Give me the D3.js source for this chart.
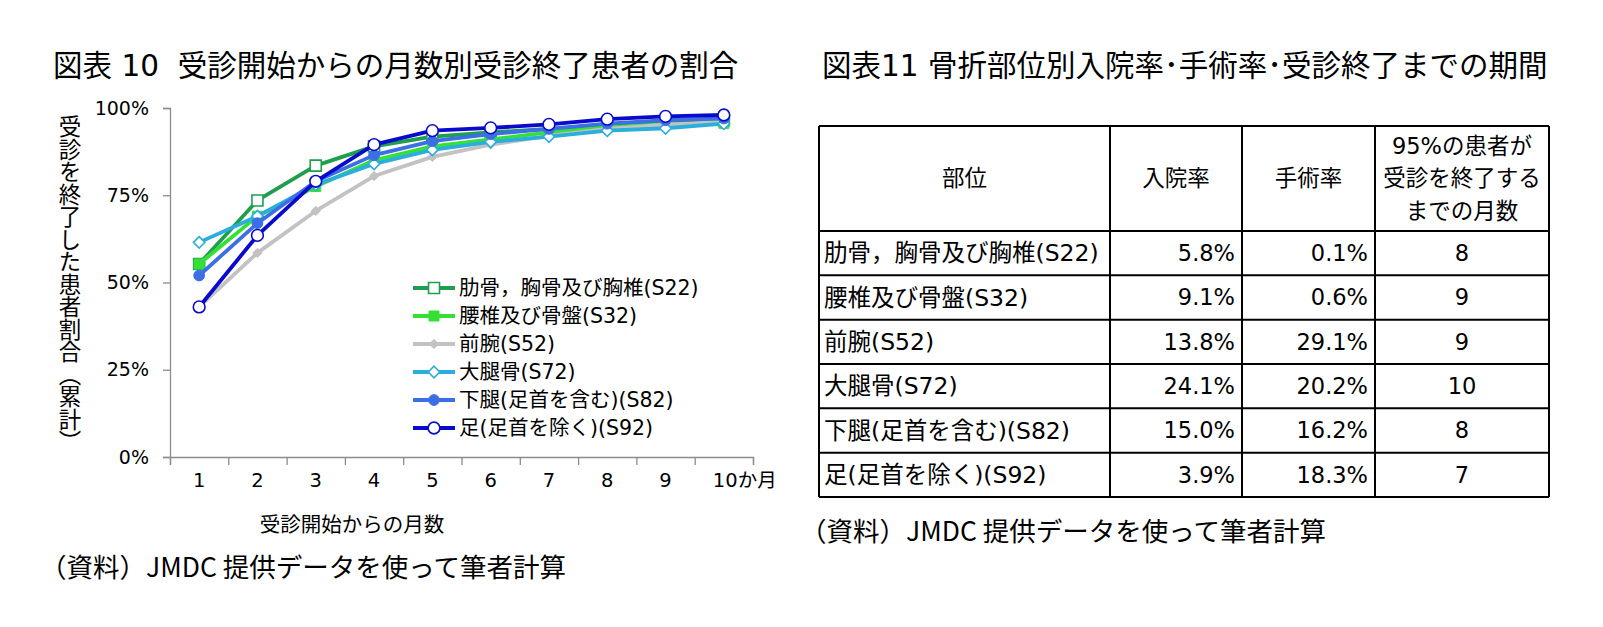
<!DOCTYPE html>
<html lang="ja">
<head>
<meta charset="UTF-8">
<title>受診開始からの月数別受診終了患者の割合</title>
<script src="https://d3js.org/d3.v7.min.js"></script>
<style>
  body { margin: 0; background: #fff; }
  svg { display: block; }
  text { font-family: 'DejaVu Sans', 'Noto Sans CJK JP', sans-serif; fill: #000; }
  .cjk { font-family: 'Noto Sans CJK JP', sans-serif; }
</style>
</head>
<body>
<svg width="1603" height="627"></svg>
<script>
// chart data
const months = [1, 2, 3, 4, 5, 6, 7, 8, 9, 10];
const monthLabels = ["1", "2", "3", "4", "5", "6", "7", "8", "9", "10か月"];
const seriesNames = ["肋骨，胸骨及び胸椎(S22)", "腰椎及び骨盤(S32)", "前腕(S52)", "大腿骨(S72)", "下腿(足首を含む)(S82)", "足(足首を除く)(S92)"];
const s22 = [0.553, 0.735, 0.835, 0.890, 0.918, 0.930, 0.940, 0.952, 0.960, 0.965];
const s32 = [0.553, 0.690, 0.775, 0.850, 0.890, 0.910, 0.930, 0.945, 0.953, 0.956];
const s52 = [0.430, 0.585, 0.705, 0.805, 0.860, 0.895, 0.920, 0.940, 0.952, 0.960];
const s72 = [0.615, 0.690, 0.780, 0.840, 0.880, 0.903, 0.918, 0.935, 0.942, 0.955];
const s82 = [0.520, 0.670, 0.790, 0.865, 0.905, 0.925, 0.940, 0.955, 0.965, 0.970];
const s92 = [0.430, 0.635, 0.790, 0.895, 0.935, 0.943, 0.953, 0.968, 0.976, 0.980];
const yTicks = [0, 0.25, 0.5, 0.75, 1];

// table data
const tableHeader = ["部位", "入院率", "手術率", ["95%の患者が", "受診を終了する", "までの月数"]];
const parts = ["肋骨，胸骨及び胸椎(S22)", "腰椎及び骨盤(S32)", "前腕(S52)", "大腿骨(S72)", "下腿(足首を含む)(S82)", "足(足首を除く)(S92)"];
const admissionRate = ["5.8%", "9.1%", "13.8%", "24.1%", "15.0%", "3.9%"];
const surgeryRate = ["0.1%", "0.6%", "29.1%", "20.2%", "16.2%", "18.3%"];
const monthsTo95 = ["8", "9", "9", "10", "8", "7"];

const styles = [
  { color: "#1f9e4e", shape: "square", open: true,  size: 11 },
  { color: "#35e035", shape: "square", open: false, size: 10 },
  { color: "#c2c2c2", shape: "diamond", open: false, size: 8 },
  { color: "#2badde", shape: "diamond", open: true,  size: 10 },
  { color: "#3c6fe6", shape: "circle", open: false, size: 11 },
  { color: "#0a0acc", shape: "circle", open: true,  size: 12 }
];

const svg = d3.select("svg");

// ---------- left chart ----------
svg.append("text").attr("x", 53).attr("y", 76).attr("font-size", 29.5)
  .attr("xml:space", "preserve").text("図表 10  受診開始からの月数別受診終了患者の割合");

const x = d3.scaleBand().domain(months).range([170, 753]);
const xEdge = d3.scaleLinear().domain([0.5, 10.5]).range([170, 753]);
const y = d3.scaleLinear().domain([0, 1]).range([457, 108]);

const yAxis = svg.append("g").attr("transform", "translate(170,0)")
  .call(d3.axisLeft(y).tickValues(yTicks).tickFormat(d3.format(".0%")).tickSize(7).tickPadding(14));
const xAxis = svg.append("g").attr("transform", "translate(0,457)")
  .call(d3.axisBottom(xEdge).tickValues(d3.range(0.5, 11)).tickFormat("").tickSize(8));
[yAxis, xAxis].forEach(g => {
  g.select(".domain").attr("stroke", "#8c8c8c").attr("stroke-width", 1.3);
  g.selectAll(".tick line").attr("stroke", "#8c8c8c").attr("stroke-width", 1.3);
});
yAxis.selectAll(".tick text").attr("font-size", 19).attr("font-family", "'DejaVu Sans', sans-serif").attr("fill", "#000");

svg.append("g").selectAll("text").data(months).join("text")
  .attr("x", (d, i) => x(d) + x.bandwidth() / 2 - (i === 9 ? 11 : 0))
  .attr("y", 480).attr("dy", "0.35em")
  .attr("text-anchor", (d, i) => i === 9 ? "start" : "middle")
  .attr("font-size", 19.5)
  .text((d, i) => monthLabels[i]);

svg.append("text").attr("x", 352).attr("y", 525).attr("dy", "0.35em")
  .attr("text-anchor", "middle").attr("font-size", 20.5).text("受診開始からの月数");

svg.append("text").attr("class", "cjk")
  .attr("x", 70).attr("y", 284)
  .attr("text-anchor", "middle")
  .style("writing-mode", "vertical-rl")
  .attr("font-size", 22.5).text("受診を終了した患者割合（累計）");

svg.append("text").attr("class", "cjk").attr("x", 40).attr("y", 568).attr("dy", "0.35em")
  .attr("font-size", 26.5).text("（資料）JMDC 提供データを使って筆者計算");

function marker(g, st) {
  const s = st.size;
  let sym;
  if (st.shape === "circle") sym = d3.symbol(d3.symbolCircle, s * s * 0.75);
  else if (st.shape === "square") sym = d3.symbol(d3.symbolSquare, s * s);
  else sym = d3.symbol(d3.symbolDiamond2, s * s * 0.85);
  g.append("path").attr("d", sym())
    .attr("fill", st.open ? "#fff" : st.color)
    .attr("stroke", st.color)
    .attr("stroke-width", st.open ? 1.6 : 1);
}

const allSeries = [s22, s32, s52, s72, s82, s92];
const line = d3.line().x((d, i) => x(months[i]) + x.bandwidth() / 2).y(d => y(d));

allSeries.forEach((vals, k) => {
  const st = styles[k];
  const g = svg.append("g");
  g.append("path").datum(vals).attr("d", line)
    .attr("fill", "none").attr("stroke", st.color).attr("stroke-width", 3.8)
    .attr("stroke-linejoin", "round");
  g.selectAll("g").data(vals).join("g")
    .attr("transform", (d, i) => `translate(${x(months[i]) + x.bandwidth() / 2},${y(d)})`)
    .each(function () { marker(d3.select(this), st); });
});

// legend
const legend = svg.append("g");
seriesNames.forEach((name, k) => {
  const ly = 288 + k * 28;
  const g = legend.append("g").attr("transform", `translate(0,${ly})`);
  g.append("line").attr("x1", 413).attr("x2", 455).attr("stroke", styles[k].color).attr("stroke-width", 3.8);
  const m = g.append("g").attr("transform", "translate(434,0)");
  marker(m, styles[k]);
  g.append("text").attr("x", 459).attr("dy", "0.35em").attr("font-size", 20.5).text(name);
});

// ---------- right table ----------
svg.append("text").attr("x", 822).attr("y", 76).attr("font-size", 29.5)
  .text("図表11 骨折部位別入院率･手術率･受診終了までの期間");

const colEdges = [819, 1110, 1242, 1375, 1549];
const rowEdges = [126, 231, 275.3, 319.7, 364, 408.3, 452.7, 497];
const tg = svg.append("g");
colEdges.forEach(cx => tg.append("line").attr("x1", cx).attr("x2", cx).attr("y1", rowEdges[0]).attr("y2", rowEdges[rowEdges.length - 1])
  .attr("stroke", "#000").attr("stroke-width", 2));
rowEdges.forEach(ry => tg.append("line").attr("x1", colEdges[0]).attr("x2", colEdges[colEdges.length - 1]).attr("y1", ry).attr("y2", ry)
  .attr("stroke", "#000").attr("stroke-width", 2));

const fs = 22.5;
tableHeader.forEach((h, c) => {
  const cx = (colEdges[c] + colEdges[c + 1]) / 2;
  const cy = (rowEdges[0] + rowEdges[1]) / 2;
  const linesT = Array.isArray(h) ? h : [h];
  linesT.forEach((t, j) => {
    tg.append("text").attr("x", cx).attr("y", cy + (j - (linesT.length - 1) / 2) * 32.5)
      .attr("dy", "0.35em").attr("text-anchor", "middle").attr("font-size", fs).text(t);
  });
});

parts.forEach((p, r) => {
  const cy = (rowEdges[r + 1] + rowEdges[r + 2]) / 2;
  tg.append("text").attr("x", colEdges[0] + 5).attr("y", cy).attr("dy", "0.35em").attr("font-size", 23.5).text(p);
  tg.append("text").attr("x", colEdges[2] - 7).attr("y", cy).attr("dy", "0.35em").attr("text-anchor", "end").attr("font-size", fs).text(admissionRate[r]);
  tg.append("text").attr("x", colEdges[3] - 7).attr("y", cy).attr("dy", "0.35em").attr("text-anchor", "end").attr("font-size", fs).text(surgeryRate[r]);
  tg.append("text").attr("x", (colEdges[3] + colEdges[4]) / 2).attr("y", cy).attr("dy", "0.35em").attr("text-anchor", "middle").attr("font-size", fs).text(monthsTo95[r]);
});

svg.append("text").attr("class", "cjk").attr("x", 800).attr("y", 532).attr("dy", "0.35em")
  .attr("font-size", 26.5).text("（資料）JMDC 提供データを使って筆者計算");
</script>
</body>
</html>
